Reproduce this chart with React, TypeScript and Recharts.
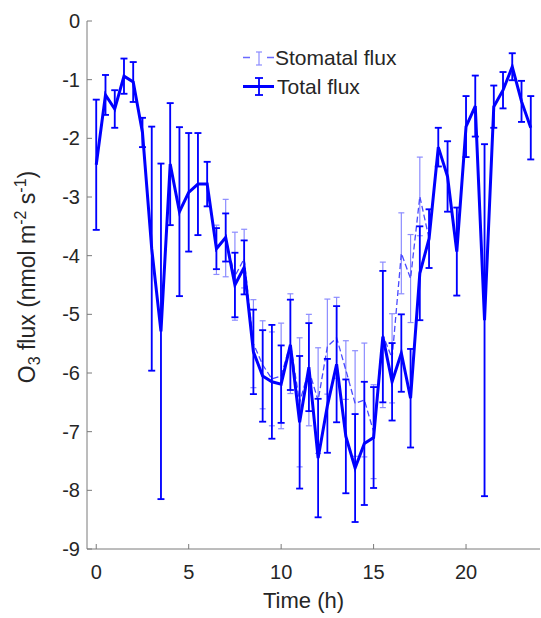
import { ErrorBar, Legend, Line, LineChart, XAxis, YAxis } from "recharts";

const FONT = '"Liberation Sans", Arial, Helvetica, sans-serif';
const TEXT = "#262626";
const AXIS = "#7a7a7a";

// half-hourly time stamps (h)
const hours = [
  0, 0.5, 1, 1.5, 2, 2.5, 3, 3.5, 4, 4.5, 5, 5.5, 6, 6.5, 7, 7.5, 8, 8.5, 9, 9.5, 10, 10.5, 11, 11.5,
  12, 12.5, 13, 13.5, 14, 14.5, 15, 15.5, 16, 16.5, 17, 17.5, 18, 18.5, 19, 19.5, 20, 20.5, 21, 21.5,
  22, 22.5, 23, 23.5
];

const totalFlux = [
  -2.45, -1.26, -1.5, -0.94, -1.04, -1.9, -3.88, -5.29, -2.44, -3.25, -2.92, -2.78, -2.78, -3.88,
  -3.69, -4.5, -4.2, -5.64, -6.05, -6.15, -6.19, -5.52, -6.84, -5.9, -7.45, -6.56, -5.85, -7.08,
  -7.62, -7.2, -7.1, -5.38, -6.15, -5.66, -6.43, -4.3, -3.71, -2.15, -2.65, -3.93, -1.8, -1.45,
  -5.1, -1.46, -1.18, -0.78, -1.37, -1.82
];

const totalErr = [
  1.11, 0.34, 0.32, 0.3, 0.34, 0.25, 2.08, 2.86, 1.04, 1.44, 1.01, 0.87, 0.38, 0.35, 0.41, 0.55,
  0.46, 0.72, 0.78, 0.97, 0.66, 0.77, 1.13, 0.75, 1.01, 0.8, 0.99, 0.97, 0.92, 1.05, 0.86, 1.12,
  0.66, 0.66, 0.84, 0.8, 0.5, 0.33, 0.6, 0.75, 0.52, 0.52, 3.0, 0.36, 0.31, 0.23, 0.35, 0.54
];

const stomatalFlux = [
  -2.45, -1.26, -1.5, -0.94, -1.04, -1.9, -3.88, -5.29, -2.44, -3.25, -2.92, -2.78, -2.78, -3.9,
  -3.7, -4.35, -4.05, -5.5, -5.86, -6.1, -6.05, -5.5, -6.5, -5.95, -6.47, -5.55, -5.4, -5.95,
  -6.52, -6.46, -7.0, -5.35, -5.75, -3.96, -4.39, -2.99, -3.71, -2.15, -2.65, -3.93, -1.8, -1.45,
  -5.1, -1.46, -1.18, -0.78, -1.37, -1.82
];

const stomatalErr = [
  1.11, 0.34, 0.32, 0.3, 0.34, 0.25, 2.08, 2.86, 1.04, 1.44, 1.01, 0.87, 0.38, 0.42, 0.66, 0.75,
  0.5, 0.75, 0.75, 0.8, 0.9, 0.85, 1.1, 0.95, 0.9, 0.81, 0.69, 0.5, 0.9, 0.97, 0.8, 1.24, 0.76,
  0.69, 0.75, 0.67, 0.5, 0.33, 0.6, 0.75, 0.52, 0.52, 3.0, 0.36, 0.31, 0.23, 0.35, 0.54
];

const xTicks = [0, 5, 10, 15, 20];
const yTicks = [-9, -8, -7, -6, -5, -4, -3, -2, -1, 0];

const data = hours.map((t, i) => ({
  t,
  total: totalFlux[i],
  totalErr: totalErr[i],
  stomatal: stomatalFlux[i],
  stomatalErr: stomatalErr[i]
}));

function XTitle(props: any) {
  const vb = props.viewBox || { x: 87, y: 549, width: 453, height: 60 };
  const cx = vb.x + vb.width / 2 - 10;
  return (
    <text x={cx} y={vb.y + 59} textAnchor="middle" fontFamily={FONT} fontSize={22} fill={TEXT}>
      Time (h)
    </text>
  );
}

function YTitle(props: any) {
  const vb = props.viewBox || { x: 0, y: 21, width: 87, height: 528 };
  const cx = vb.x + 35;
  const cy = vb.y + vb.height / 2 - 8;
  return (
    <text
      x={cx}
      y={cy}
      transform={`rotate(-90 ${cx} ${cy})`}
      textAnchor="middle"
      fontFamily={FONT}
      fontSize={23}
      fill={TEXT}
    >
      O
      <tspan dy={5} fontSize={16}>3</tspan>
      <tspan dy={-5}> flux (nmol m</tspan>
      <tspan dy={-9} fontSize={16}>-2</tspan>
      <tspan dy={9}> s</tspan>
      <tspan dy={-9} fontSize={16}>-1</tspan>
      <tspan dy={9}>)</tspan>
    </text>
  );
}

function LegendBox() {
  return (
    <div style={{ fontFamily: FONT, fontSize: 21, color: TEXT, lineHeight: "29px" }}>
      <div style={{ display: "flex", alignItems: "center", height: 29 }}>
        <svg width={32} height={29} style={{ display: "block" }}>
          <line x1={0} y1={14.5} x2={31} y2={14.5} stroke="#6a6aff" strokeWidth={1.3} strokeDasharray="7 17" />
          <line x1={16} y1={9} x2={16} y2={22} stroke="#8c8cff" strokeWidth={1.2} />
          <line x1={13} y1={9} x2={19} y2={9} stroke="#8c8cff" strokeWidth={1.2} />
          <line x1={13} y1={22} x2={19} y2={22} stroke="#8c8cff" strokeWidth={1.2} />
        </svg>
        <span>Stomatal flux</span>
      </div>
      <div style={{ display: "flex", alignItems: "center", height: 29 }}>
        <svg width={34} height={29} style={{ display: "block" }}>
          <line x1={0} y1={14.5} x2={31} y2={14.5} stroke="#0000ff" strokeWidth={3} />
          <line x1={16} y1={6} x2={16} y2={23} stroke="#0000ff" strokeWidth={1.8} />
          <line x1={12} y1={6} x2={20} y2={6} stroke="#0000ff" strokeWidth={1.8} />
          <line x1={12} y1={23} x2={20} y2={23} stroke="#0000ff" strokeWidth={1.8} />
        </svg>
        <span>Total flux</span>
      </div>
    </div>
  );
}

export default function App() {
  const tickStyle = { fontSize: 20, fill: TEXT, fontFamily: FONT };
  return (
    <div style={{ position: "absolute", left: 0, top: 0, background: "#fff" }}>
      <LineChart
        width={541}
        height={618}
        data={data}
        margin={{ top: 21, right: 1, bottom: 9, left: 0 }}
      >
        <XAxis
          dataKey="t"
          type="number"
          domain={[-0.5, 24]}
          ticks={xTicks}
          allowDataOverflow
          height={60}
          tick={tickStyle}
          tickSize={-5}
          tickMargin={21}
          tickLine={{ stroke: AXIS }}
          axisLine={{ stroke: AXIS }}
          label={<XTitle />}
        />
        <XAxis
          xAxisId="top"
          orientation="top"
          type="number"
          domain={[-0.5, 24]}
          ticks={xTicks}
          allowDataOverflow
          height={0}
          tick={false}
          tickSize={-5}
          tickLine={{ stroke: AXIS }}
          axisLine={{ stroke: AXIS }}
        />
        <YAxis
          type="number"
          domain={[-9, 0]}
          ticks={yTicks}
          allowDataOverflow
          width={87}
          tick={tickStyle}
          tickSize={-5}
          tickMargin={12}
          tickLine={{ stroke: AXIS }}
          axisLine={{ stroke: AXIS }}
          label={<YTitle />}
        />
        <YAxis
          yAxisId="right"
          orientation="right"
          type="number"
          domain={[-9, 0]}
          ticks={yTicks}
          allowDataOverflow
          width={0}
          tick={false}
          tickSize={-5}
          tickLine={{ stroke: AXIS }}
          axisLine={{ stroke: AXIS }}
        />
        <Legend
          content={<LegendBox />}
          layout="vertical"
          align="center"
          verticalAlign="middle"
          wrapperStyle={{ left: 243, top: 43, width: 180 }}
        />
        <Line
          type="linear"
          dataKey="stomatal"
          name="Stomatal flux"
          stroke="#4a4aff"
          strokeWidth={1.3}
          strokeDasharray="6 3"
          dot={false}
          activeDot={false}
          isAnimationActive={false}
        >
          <ErrorBar dataKey="stomatalErr" direction="y" width={3} stroke="#8c8cff" strokeWidth={1.2} isAnimationActive={false} />
        </Line>
        <Line
          type="linear"
          dataKey="total"
          name="Total flux"
          stroke="#0000ff"
          strokeWidth={3}
          dot={false}
          activeDot={false}
          isAnimationActive={false}
        >
          <ErrorBar dataKey="totalErr" direction="y" width={3.5} stroke="#0000ff" strokeWidth={1.8} isAnimationActive={false} />
        </Line>
      </LineChart>
    </div>
  );
}
